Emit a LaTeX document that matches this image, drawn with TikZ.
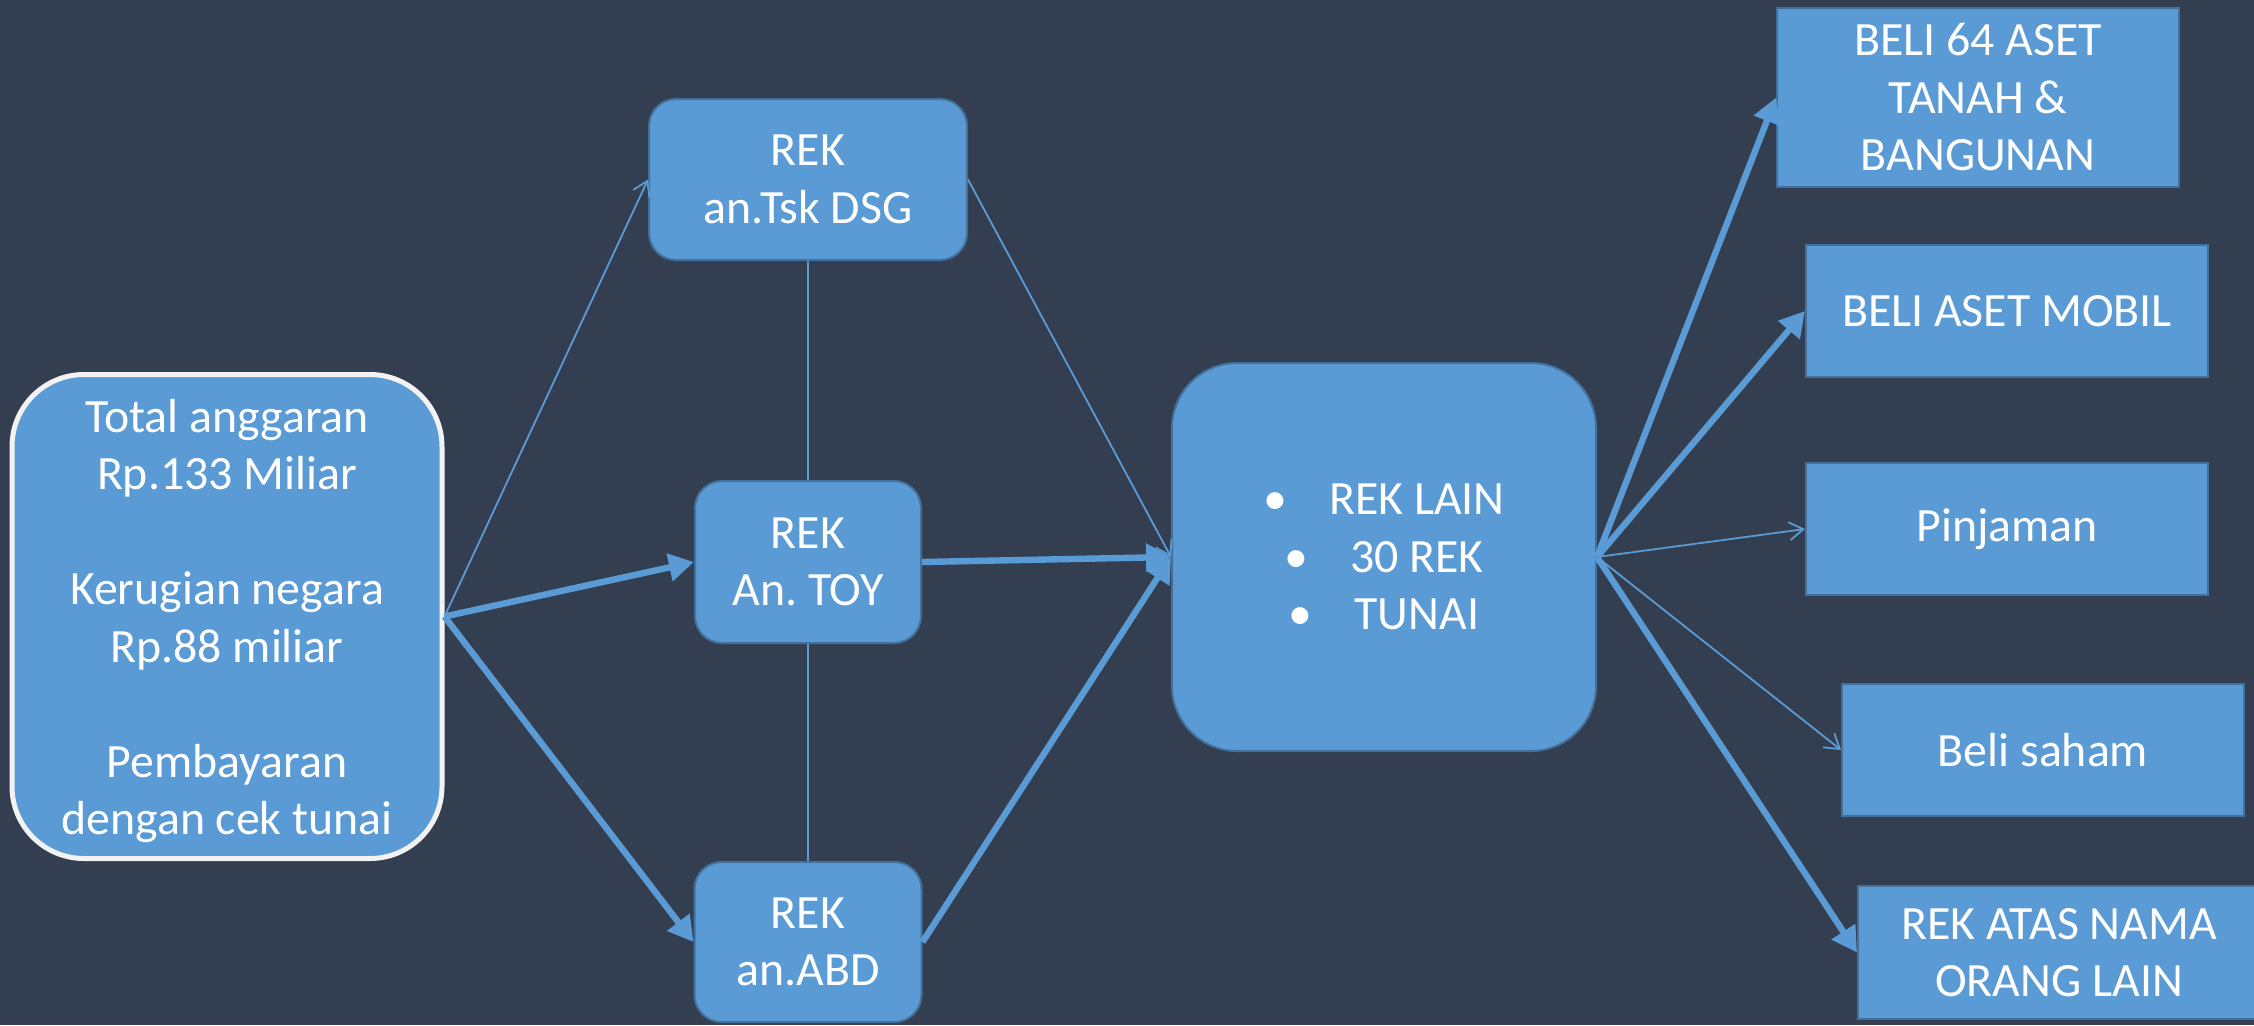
\documentclass[tikz,border=0pt]{standalone}
\usepackage{fontspec}
\setmainfont{Carlito}
\usetikzlibrary{arrows.meta}
\definecolor{bgc}{HTML}{333F50}
\definecolor{fillc}{HTML}{5B9BD5}
\definecolor{edgec}{HTML}{41719C}
\definecolor{lightedge}{HTML}{F2F2F2}
\newcommand\bxfont{\frenchspacing\fontsize{23.9pt}{28.75pt}\selectfont}
\begin{document}
\begin{tikzpicture}[x=0.5pt,y=-0.5pt,
  box/.style={draw=edgec, line width=1pt, fill=fillc, text=white, font=\bxfont, align=center, inner sep=0pt},
  rbox/.style={box, rounded corners=13.5pt},
  fatarr/.style={draw=fillc, line width=3.2pt, -{Triangle[length=12.5pt,width=13.5pt]}},
  thinarr/.style={draw=fillc, line width=0.9pt, -{Straight Barb[length=7pt,width=9pt,line width=0.9pt]}},
  link/.style={draw=fillc, line width=0.75pt}]
\useasboundingbox (0,0) rectangle (2254,1025);
\clip (0,0) rectangle (2254,1025);
\fill[bgc] (0,0) rectangle (2254,1025);

% nodes
\node[box, draw=lightedge, line width=2.5pt, rounded corners=36pt, minimum width=215pt, minimum height=242pt] (L) at (227,616.5)
  {\rule{0pt}{21pt}Total anggaran\\Rp.133 Miliar\\[28.75pt]Kerugian negara\\Rp.88 miliar\\[28.75pt]Pembayaran\\dengan cek tunai};
\node[rbox, minimum width=159pt, minimum height=80.5pt] (DSG) at (808,179.5) {REK\\an.Tsk DSG};
\node[rbox, minimum width=113pt, minimum height=81pt] (TOY) at (808,562) {REK\\An. TOY};
\node[rbox, minimum width=113.5pt, minimum height=80pt] (ABD) at (808,942) {REK\\an.ABD};
\node[box, rounded corners=32.5pt, minimum width=212pt, minimum height=194pt] (C) at (1384,557)
  {•\hspace{21pt}REK LAIN\\•\hspace{21pt}30 REK\\•\hspace{21pt}TUNAI};
\node[box, minimum width=201pt, minimum height=89.5pt] (B64) at (1978,97.5) {BELI 64 ASET\\TANAH \&\\BANGUNAN};
\node[box, minimum width=201pt, minimum height=66pt] (MOB) at (2007,311) {BELI ASET MOBIL};
\node[box, minimum width=201pt, minimum height=66pt] (PIN) at (2007,529) {Pinjaman};
\node[box, minimum width=201pt, minimum height=66pt] (SAH) at (2043,750) {Beli saham};
\node[box, minimum width=201pt, minimum height=66.5pt] (RAN) at (2059,952.5) {REK ATAS NAMA\\ORANG LAIN};

% connectors
\draw[link] (DSG.south) -- (TOY.north);
\draw[link] (TOY.south) -- (ABD.north);
\draw[thinarr] (L.east) -- (DSG.west);
\draw[fatarr] (L.east) -- (TOY.west);
\draw[fatarr] (L.east) -- (ABD.west);
\draw[thinarr] (DSG.east) -- (C.west);
\draw[fatarr] (TOY.east) -- (C.west);
\draw[fatarr] (ABD.east) -- (C.west);
\draw[fatarr] (C.east) -- (B64.west);
\draw[fatarr] (C.east) -- (MOB.west);
\draw[thinarr] (C.east) -- (PIN.west);
\draw[thinarr] (C.east) -- (SAH.west);
\draw[fatarr] (C.east) -- (RAN.west);
\end{tikzpicture}
\end{document}
